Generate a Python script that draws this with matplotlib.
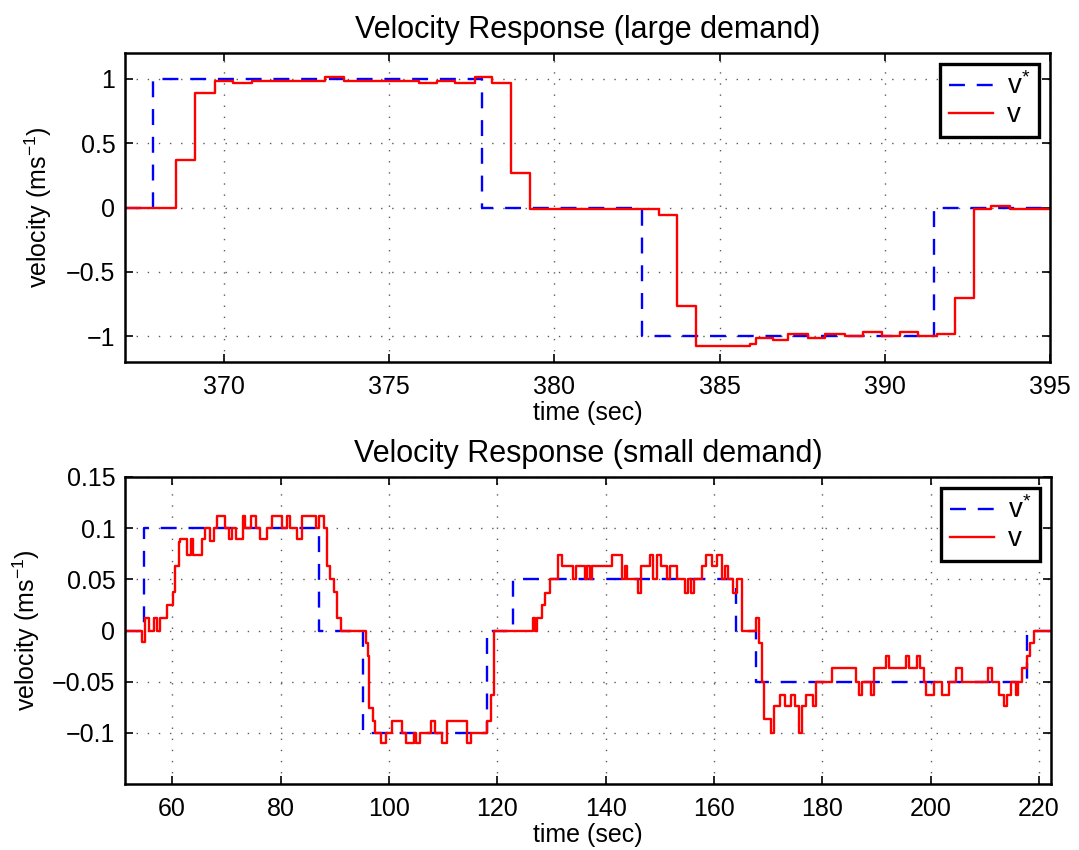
import matplotlib
matplotlib.use("Agg")
import matplotlib.pyplot as plt
from matplotlib.ticker import FixedLocator, FixedFormatter

plt.rcParams['font.family'] = ['Liberation Sans', 'DejaVu Sans']
plt.rcParams['mathtext.fontset'] = 'custom'
plt.rcParams['mathtext.rm'] = 'Liberation Sans'
plt.rcParams['mathtext.it'] = 'Liberation Sans:italic'
plt.rcParams['mathtext.default'] = 'regular'

# ---------------- data: large demand ----------------
t_ref_large = [367.0, 367.85, 377.8, 382.65, 391.5, 395.0]
v_ref_large = [0.0, 1.0, 0.0, -1.0, 0.0, 0.0]

t_large = [367.0, 368.55, 369.12, 369.73, 370.28, 370.83, 371.44, 372.35, 373.06,
           373.62, 374.17, 374.78, 375.89, 376.45, 376.98, 377.59, 378.1, 378.67,
           379.25, 383.15, 383.7, 384.27, 385.93, 386.1, 386.6, 387.07, 387.68,
           388.18, 388.79, 389.34, 389.9, 390.45, 391.01, 391.57, 392.12, 392.7,
           393.2, 393.8, 395.0]
v_large = [0.0, 0.37, 0.89, 0.985, 0.966, 0.985, 0.98, 0.98, 1.01,
           0.98, 0.985, 0.98, 0.966, 0.98, 0.966, 1.01, 0.97, 0.27,
           -0.013, -0.057, -0.764, -1.075, -1.06, -1.015, -1.03, -0.98, -1.015,
           -0.98, -0.995, -0.964, -0.995, -0.964, -1.0, -0.98, -0.705, -0.013,
           0.015, -0.01, -0.01]

# ---------------- data: small demand ----------------
t_ref_small = [51.3, 54.8, 87.1, 95.3, 118.15, 123.0, 164.1, 167.7, 217.8, 222.2]
v_ref_small = [0.0, 0.1, 0.0, -0.1, 0.0, 0.05, 0.0, -0.05, 0.0, 0.0]

t_small = [51.3, 54.4, 55.0, 55.7, 56.6, 57.2, 57.7, 59.1, 60.1, 60.5, 61.2, 61.5,
           62.8, 63.4, 63.8, 65.5, 66.0, 66.9, 67.7, 68.3, 69.7, 70.5, 71.1, 71.7,
           73.0, 73.4, 74.5, 75.5, 76.3, 77.5, 78.5, 80.3, 81.2, 81.8, 83.1, 84.0,
           86.5, 87.1, 88.0, 88.6, 89.2, 89.8, 90.5, 91.1, 95.7, 96.2, 96.4, 97.0,
           97.5, 98.5, 99.4, 100.5, 102.5, 103.1, 104.6, 105.0, 105.8, 107.7, 108.5,
           109.8, 110.8, 114.5, 115.1, 118.2, 118.8, 119.4,
           126.6, 127.0, 127.4, 128.2, 128.8, 129.7, 131.3, 132.0, 134.0, 134.6,
           136.2, 136.5, 137.1, 137.4, 141.1, 143.0, 143.6, 143.9, 146.0, 146.6,
           148.2, 148.8, 149.4, 150.2, 151.3, 151.9, 153.1, 154.6, 155.2, 155.8,
           156.3, 157.7, 158.6, 159.6, 160.5, 161.4, 162.0, 162.6, 163.6, 164.2,
           165.2, 167.7, 168.3, 168.8, 169.3, 170.5, 171.1, 172.2, 173.2, 174.3,
           175.0, 175.6, 176.2, 177.0, 178.2, 178.9, 181.8, 186.2, 186.8, 187.4,
           188.9, 189.5, 191.7, 192.3, 195.4, 196.0, 197.5, 198.1, 198.8, 199.1,
           200.6, 202.0, 203.4, 204.6, 205.8, 210.5, 211.4, 212.6, 213.5, 214.0,
           214.8, 215.7, 216.1, 216.9, 217.8, 218.3, 219.1, 222.2]
v_small = [0.0, -0.011, 0.012, 0.0, 0.012, 0.0, 0.012, 0.025, 0.038, 0.063, 0.086, 0.089,
           0.074, 0.089, 0.074, 0.089, 0.1, 0.087, 0.1, 0.112, 0.1, 0.089, 0.1, 0.089,
           0.112, 0.1, 0.112, 0.1, 0.089, 0.1, 0.112, 0.1, 0.112, 0.1, 0.089, 0.112,
           0.1, 0.112, 0.1, 0.063, 0.05, 0.038, 0.012, 0.0, -0.012, -0.025, -0.076, -0.088,
           -0.1, -0.11, -0.1, -0.088, -0.1, -0.11, -0.1, -0.11, -0.1, -0.088, -0.1,
           -0.11, -0.088, -0.11, -0.1, -0.088, -0.063, 0.0,
           0.012, 0.0, 0.012, 0.025, 0.037, 0.05, 0.074, 0.063, 0.05, 0.063,
           0.05, 0.063, 0.05, 0.063, 0.074, 0.05, 0.063, 0.05, 0.037, 0.063,
           0.074, 0.05, 0.074, 0.063, 0.05, 0.063, 0.05, 0.037, 0.05, 0.037,
           0.05, 0.063, 0.074, 0.063, 0.074, 0.05, 0.063, 0.05, 0.037, 0.05,
           0.0, 0.012, -0.012, -0.05, -0.086, -0.1, -0.074, -0.063, -0.074, -0.063,
           -0.074, -0.1, -0.074, -0.063, -0.074, -0.05, -0.037, -0.05, -0.063, -0.05,
           -0.063, -0.037, -0.025, -0.037, -0.025, -0.037, -0.025, -0.037, -0.05, -0.063,
           -0.05, -0.063, -0.05, -0.037, -0.05, -0.037, -0.05, -0.063, -0.074, -0.063,
           -0.05, -0.063, -0.05, -0.037, -0.025, -0.012, 0.0, 0.0]

xticks_large = [370, 375, 380, 385, 390, 395]
yticks_large = [-1, -0.5, 0, 0.5, 1]
yticklabels_large = ['\u22121', '\u22120.5', '0', '0.5', '1']
xticks_small = [60, 80, 100, 120, 140, 160, 180, 200, 220]
yticks_small = [-0.1, -0.05, 0, 0.05, 0.1, 0.15]
yticklabels_small = ['\u22120.1', '\u22120.05', '0', '0.05', '0.1', '0.15']

title_large = 'Velocity Response (large demand)'
title_small = 'Velocity Response (small demand)'
xlabel = 'time (sec)'
ylabel = r'velocity (ms$^{-1}$)'
labels = [r'v$^{*}$', 'v']

fig = plt.figure(figsize=(10.79, 8.5), dpi=100)
ax1 = fig.add_axes([125/1079, 1-362/850, 925/1079, 309/850])
ax2 = fig.add_axes([125/1079, 1-784/850, 926/1079, 307/850])


def style(ax, xt, yt, ytl, xlim, ylim, title, ylab_x):
    ax.set_xlim(*xlim)
    ax.set_ylim(*ylim)
    ax.xaxis.set_major_locator(FixedLocator(xt))
    ax.xaxis.set_major_formatter(FixedFormatter([str(v) for v in xt]))
    ax.yaxis.set_major_locator(FixedLocator(yt))
    ax.yaxis.set_major_formatter(FixedFormatter(ytl))
    ax.tick_params(direction='in', top=True, right=True, length=6, width=1.2,
                   labelsize=18, pad=7, colors='black')
    ax.tick_params(axis='x', pad=9)
    for s in ax.spines.values():
        s.set_linewidth(1.8)
        s.set_color('black')
    ax.grid(True, color='#333333', linestyle=(0, (1, 7)), linewidth=1.0, alpha=0.8)
    ax.set_axisbelow(True)
    ax.set_title(title, fontsize=22, pad=11)
    ax.set_xlabel(xlabel, fontsize=18, labelpad=2)
    ax.set_ylabel(ylabel, fontsize=18)
    ax.yaxis.set_label_coords(ylab_x, 0.5)
    leg = ax.legend(labels, loc='upper right', fontsize=20, fancybox=False,
                    framealpha=1, edgecolor='black', borderaxespad=0.4,
                    handlelength=1.6, borderpad=0.3, labelspacing=0.08,
                    handletextpad=0.5)
    leg.get_frame().set_linewidth(2.4)


ax1.step(t_ref_large, v_ref_large, where='post', color='#0000ff', lw=1.7,
         dashes=(6.75, 5))
ax1.step(t_large, v_large, where='post', color='#ff0000', lw=1.7)
style(ax1, xticks_large, yticks_large, yticklabels_large, (367, 395), (-1.2, 1.2),
      title_large, -0.077)

ax2.step(t_ref_small, v_ref_small, where='post', color='#0000ff', lw=1.7,
         dashes=(6.75, 5))
ax2.step(t_small, v_small, where='post', color='#ff0000', lw=1.7)
style(ax2, xticks_small, yticks_small, yticklabels_small, (51.3, 222.2), (-0.15, 0.15),
      title_small, -0.09)

fig.savefig('out.png', dpi=100)
